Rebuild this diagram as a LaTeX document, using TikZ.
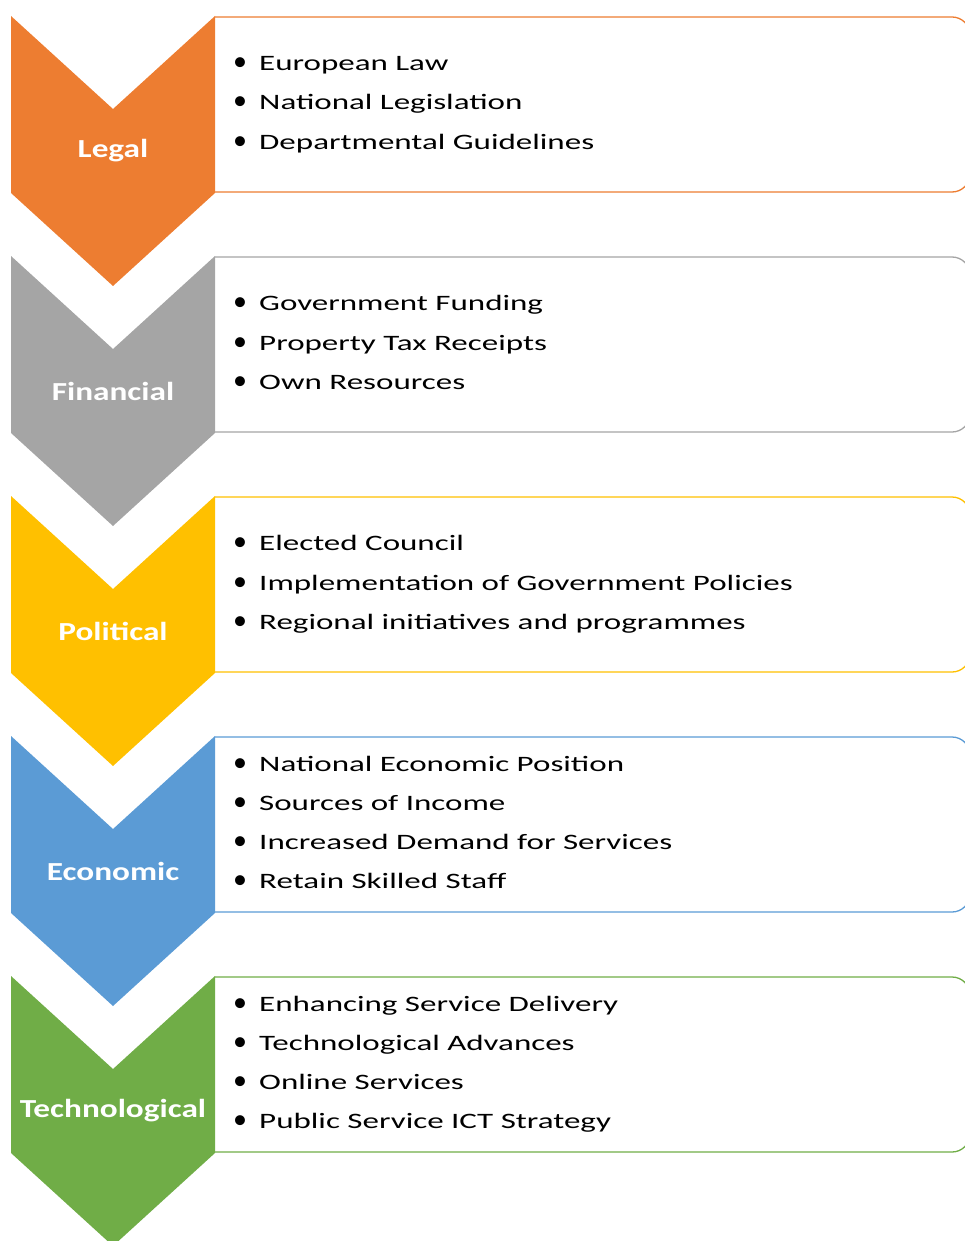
\documentclass[tikz,border=0pt]{standalone}
\usepackage{fontspec}
\setmainfont{Carlito}
\newfontfamily\itemfont[FakeStretch=1.5]{Carlito}
\newfontfamily\labfont[FakeStretch=1.28]{Carlito}
\definecolor{legalc}{HTML}{ED7D31}
\definecolor{finc}{HTML}{A5A5A5}
\definecolor{polc}{HTML}{FFC000}
\definecolor{ecoc}{HTML}{5B9BD5}
\definecolor{techc}{HTML}{70AD47}
\newcommand\bul{\makebox[26pt][l]{\normalfont\fontsize{28}{28}\selectfont\textbullet}}
\tikzset{
  frame/.style={draw=#1, line width=1.3pt, rounded corners=18pt},
  lab/.style={text=white, inner sep=0pt, font=\labfont\fontsize{26}{26}\selectfont\bfseries},
  item/.style={anchor=base west, inner sep=0pt, font=\itemfont\fontsize{22}{26}\selectfont},
}
\begin{document}
\begin{tikzpicture}[x=1pt,y=-1pt]
\useasboundingbox (0,0) rectangle (965,1241);
\clip (0,0) rectangle (965,1241);
\foreach \i/\col/\lab/\n/\items in {
  0/legalc/Legal/3/{European Law,National Legislation,Departmental Guidelines},
  1/finc/Financial/3/{Government Funding,Property Tax Receipts,Own Resources},
  2/polc/Political/3/{Elected Council,Implementation of Government Policies,Regional initiatives and programmes},
  3/ecoc/Economic/4/{National Economic Position,Sources of Income,Increased Demand for Services,Retain Skilled Staff},
  4/techc/Technological/4/{Enhancing Service Delivery,Technological Advances,Online Services,Public Service ICT Strategy}}{
  \pgfmathsetmacro\t{16+240*\i}
  % text box and chevron
  \draw[frame=\col] (215,\t+1) -- (970,\t+1) -- (970,\t+176) -- (215,\t+176);
  \fill[\col] (11,\t) -- (113,\t+93) -- (215,\t) -- (215,\t+177) -- (113,\t+270) -- (11,\t+177) -- cycle;
  \node[lab] (lab\i) at (113,\t+135) {\lab};
  \foreach \txt [count=\k] in \items{
    \pgfmathsetmacro\yy{\t+94+(\k-(\n+1)/2)*39.3}
    \node[item] (pt\i-\k) at (233,\yy) {\bul\txt};
  }
}
\end{tikzpicture}
\end{document}
